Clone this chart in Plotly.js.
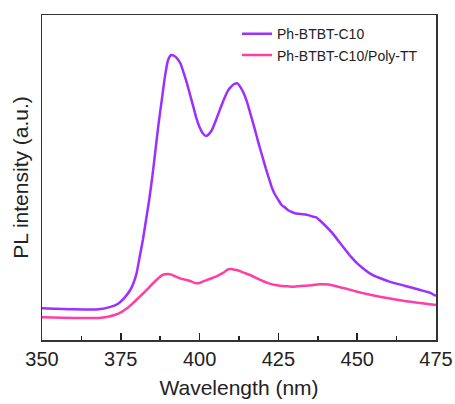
<!DOCTYPE html>
<html>
<head>
<meta charset="utf-8">
<script src="https://cdn.plot.ly/plotly-3.0.1.min.js"></script>
<style>html,body{margin:0;padding:0;background:#fff;}#chart{width:455px;height:404px;}</style>
</head>
<body>
<div id="chart"></div>
<script>
// Wavelength (nm) and PL intensity (a.u., arbitrary units)
const wlPure = [350,360,368,372,374,376,378,379,380,381,382,383,384,385,386,387,388,389,390,391,392,393,394,395,396,397,398,399,400,401,402,403,404,405,406,407,408,409,410,411,412,413,414,415,416,417,418,419,420,421,422,423,424,425,426,427,428,429,430,432,434,436,437,438,440,442,444,446,448,450,452,454,456,458,460,465,470,473,475];
const plPure = [95,92,92,100,108,125,150,170,200,250,300,360,420,490,570,650,720,790,840,855,852,843,828,800,770,735,700,665,638,620,612,618,632,655,680,705,728,748,760,768,770,758,740,715,683,650,615,580,548,515,485,455,435,420,405,398,390,385,381,378,376,370,368,360,342,322,298,274,250,230,214,200,190,183,176,163,150,142,132];
const wlBlend = [350,360,368,371,373,375,377,379,381,383,385,387,388,389,390,391,392,393,394,395,396,397,398,399,400,401,402,404,406,407,408,409,410,411,412,413,414,416,418,420,422,424,426,428,430,432,434,436,438,440,442,444,446,448,450,453,456,460,465,470,475];
const plBlend = [68,66,66,70,75,83,95,112,130,148,168,186,194,197,198,196,192,188,184,182,180,177,173,170,171,175,179,186,194,199,205,212,213,211,209,206,202,195,186,177,170,165,162,161,160,162,163,165,167,167,164,160,155,150,145,138,132,125,117,111,105];

const seriesNames = ['Ph-BTBT-C10', 'Ph-BTBT-C10/Poly-TT'];

const font = 'Liberation Sans, Arial, sans-serif';
const traces = [
  {x: wlPure, y: plPure, name: seriesNames[0], mode: 'lines', line: {color: '#9b30ff', width: 2.5, shape: 'spline', smoothing: 0.5}},
  {x: wlBlend, y: plBlend, name: seriesNames[1], mode: 'lines', line: {color: '#ff3fa4', width: 2.5, shape: 'spline', smoothing: 0.5}}
];
const layout = {
  width: 455, height: 404,
  margin: {l: 42, r: 19, t: 15, b: 64},
  paper_bgcolor: '#fff', plot_bgcolor: '#fff',
  font: {family: font, color: '#222'},
  showlegend: true,
  legend: {x: 0.495, xanchor: 'left', y: 0.99, yanchor: 'top', bgcolor: 'rgba(0,0,0,0)', font: {size: 14, color: '#222', family: font}, tracegroupgap: 0},
  xaxis: {
    range: [350, 475], tickmode: 'linear', tick0: 350, dtick: 25,
    ticks: 'inside', ticklen: 7, tickwidth: 1.6, tickcolor: '#222',
    minor: {dtick: 12.5, tick0: 350, ticks: 'inside', ticklen: 4, tickwidth: 1.5, tickcolor: '#222', showgrid: false},
    showline: true, linecolor: '#333', linewidth: 1.5, mirror: true,
    showgrid: false, zeroline: false,
    tickfont: {size: 20, family: font, color: '#222'},
    title: {text: 'Wavelength (nm)', font: {size: 21, family: font, color: '#222'}, standoff: 12}
  },
  yaxis: {
    range: [0, 975], showticklabels: false, ticks: '',
    showline: true, linecolor: '#333', linewidth: 1.5, mirror: true,
    showgrid: false, zeroline: false,
    title: {text: 'PL intensity (a.u.)', font: {size: 21, family: font, color: '#222'}, standoff: 6}
  }
};
Plotly.newPlot('chart', traces, layout, {displayModeBar: false, staticPlot: true});
</script>
</body>
</html>
